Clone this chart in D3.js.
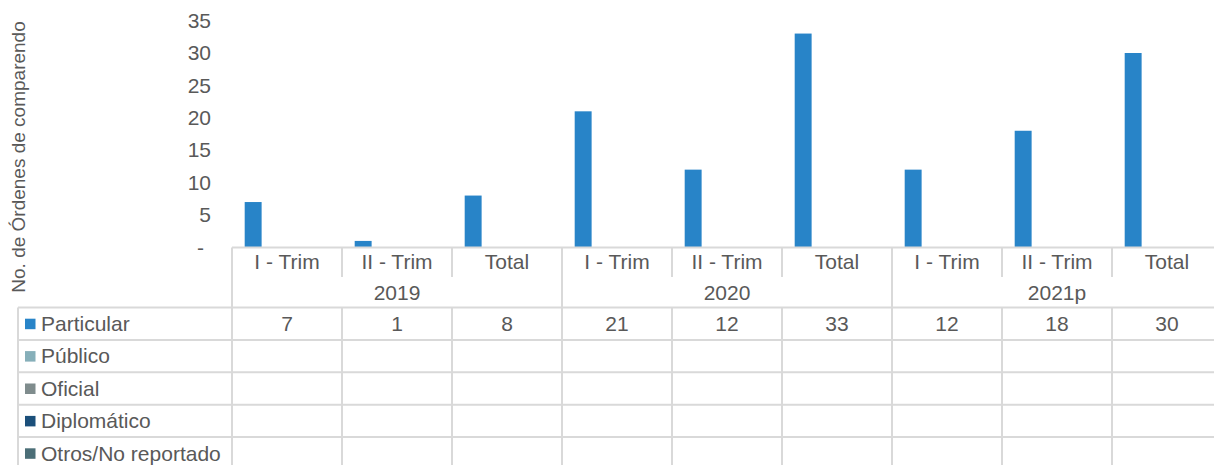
<!DOCTYPE html>
<html><head><meta charset="utf-8">
<script src="https://cdn.jsdelivr.net/npm/d3@7"></script>
<style>body{margin:0;background:#fff}svg{display:block;font-family:"Liberation Sans",Arial,sans-serif}</style>
</head><body><svg id="c" width="1214" height="465"></svg>
<script>
const categories = ["I - Trim","II - Trim","Total","I - Trim","II - Trim","Total","I - Trim","II - Trim","Total"];
const years = ["2019","2020","2021p"];
const seriesNames = ["Particular","Público","Oficial","Diplomático","Otros/No reportado"];
const seriesColors = ["#2884C8","#86AFB9","#7F8C8D","#1B4F7A","#4B6E77"];
const particular = [7,1,8,21,12,33,12,18,30];
const publico = [null,null,null,null,null,null,null,null,null];
const oficial = [null,null,null,null,null,null,null,null,null];
const diplomatico = [null,null,null,null,null,null,null,null,null];
const otros = [null,null,null,null,null,null,null,null,null];
const yTicks = [0,5,10,15,20,25,30,35];
const yTitle = "No. de Órdenes de comparendo";

const series = [particular, publico, oficial, diplomatico, otros];
const svg = d3.select("#c");
const grid = "#D9D9D9", txt = "#595959", fs = 21;
const left = 232, right = 1222, y0 = 247.4, yTop = 20.6;
const x = d3.scaleBand().domain(d3.range(categories.length)).range([left, right]);
const xs = d3.scaleBand().domain(d3.range(series.length)).range([0, x.bandwidth()]).paddingInner(0).paddingOuter(0.75);
const y = d3.scaleLinear().domain([0, 35]).range([y0, yTop]);

// y axis labels
const yAxis = d3.axisLeft(y).tickValues(yTicks).tickSize(0).tickPadding(0).tickFormat(d => d === 0 ? "-" : d);
const ga = svg.append("g").attr("transform", `translate(${left-21},0)`).call(yAxis);
ga.select(".domain").remove();
ga.selectAll("text").attr("fill", txt).style("font-size", fs+"px").style("font-family","Liberation Sans, Arial, sans-serif");
ga.selectAll("text").filter(d => d === 0).attr("dx", -7);

svg.append("text").attr("transform", `translate(25,${157}) rotate(-90)`).attr("text-anchor","middle")
  .attr("fill", txt).style("font-size","19px").text(yTitle);

// bars
series.forEach((vals, si) => {
  svg.append("g").selectAll("rect").data(vals.map((v,i)=>({v,i})).filter(d=>d.v!=null)).join("rect")
    .attr("x", d => x(d.i) + xs(si)).attr("width", xs.bandwidth())
    .attr("y", d => y(d.v)).attr("height", d => y(0) - y(d.v))
    .attr("fill", seriesColors[si]);
});

// table lines
const rowTop = 307.5, rowH = 32.4, nRows = seriesNames.length;
const g = svg.append("g").attr("stroke", grid).attr("stroke-width", 2).attr("fill","none");
g.append("line").attr("x1", left).attr("x2", right).attr("y1", y0).attr("y2", y0);
for (let r = 0; r <= nRows; r++) {
  g.append("line").attr("x1", 18).attr("x2", right).attr("y1", rowTop + r*rowH).attr("y2", rowTop + r*rowH);
}
g.append("line").attr("x1", 18).attr("x2", 18).attr("y1", rowTop).attr("y2", rowTop + nRows*rowH);
categories.forEach((c, i) => {
  const xx = x(i);
  const isGroup = i % 3 === 0;
  g.append("line").attr("x1", xx).attr("x2", xx).attr("y1", y0).attr("y2", isGroup ? rowTop + nRows*rowH : 277);
  if (!isGroup) g.append("line").attr("x1", xx).attr("x2", xx).attr("y1", rowTop).attr("y2", rowTop + nRows*rowH);
});
g.append("line").attr("x1", right).attr("x2", right).attr("y1", y0).attr("y2", rowTop + nRows*rowH);

// category labels
svg.append("g").selectAll("text").data(categories).join("text")
  .attr("x", (d,i) => x(i) + x.bandwidth()/2).attr("y", 262).attr("dy","0.35em")
  .attr("text-anchor","middle").attr("fill", txt).style("font-size", fs+"px").text(d => d);
svg.append("g").selectAll("text").data(years).join("text")
  .attr("x", (d,i) => x(i*3) + x.bandwidth()*1.5).attr("y", 293).attr("dy","0.35em")
  .attr("text-anchor","middle").attr("fill", txt).style("font-size", fs+"px").text(d => d);

// legend rows + values
seriesNames.forEach((name, si) => {
  const cy = rowTop + si*rowH + rowH/2;
  svg.append("rect").attr("x", 25).attr("y", cy - 5).attr("width", 10.5).attr("height", 10.5).attr("fill", seriesColors[si]);
  svg.append("text").attr("x", 41).attr("y", cy).attr("dy","0.35em").attr("fill", txt).style("font-size", fs+"px").text(name);
  series[si].forEach((v, i) => {
    if (v == null) return;
    svg.append("text").attr("x", x(i) + x.bandwidth()/2).attr("y", cy).attr("dy","0.35em")
      .attr("text-anchor","middle").attr("fill", txt).style("font-size", fs+"px").text(v);
  });
});
</script></body></html>
